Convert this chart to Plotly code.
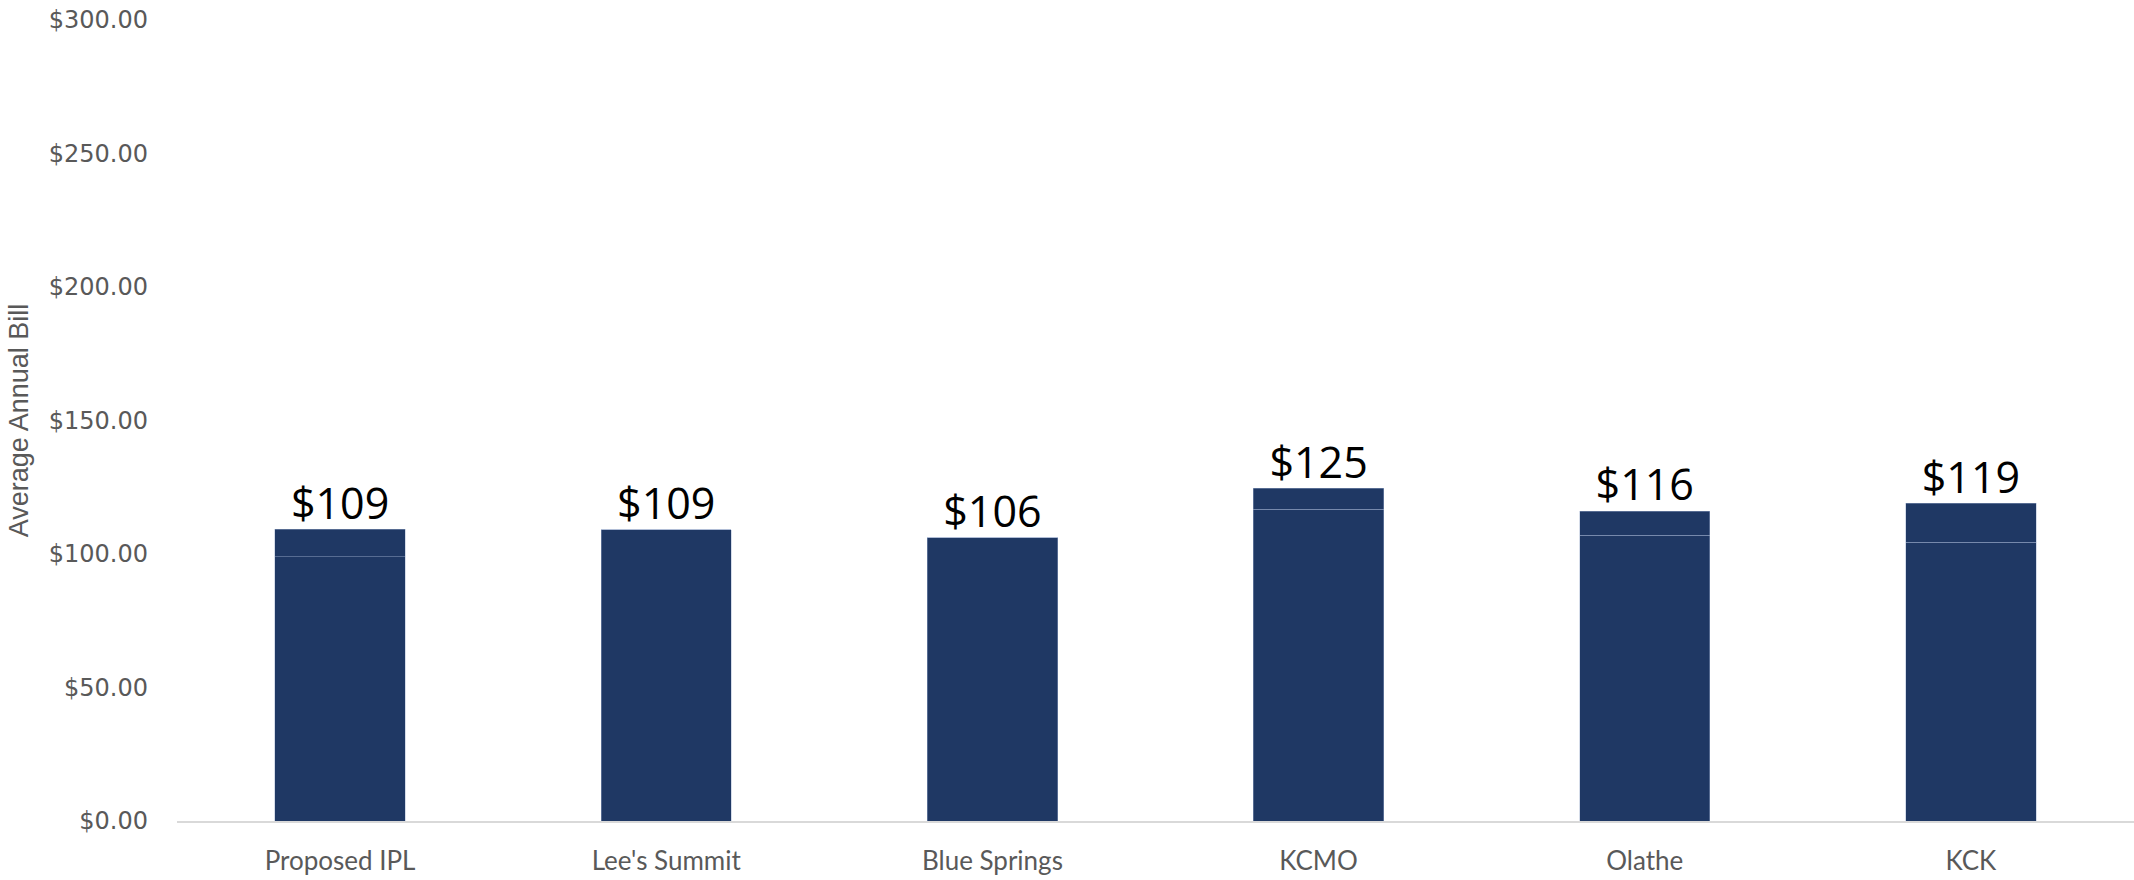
import plotly.graph_objects as go

# Average annual bill by utility, split into base charge and added portion
utilities = ["Proposed IPL", "Lee's Summit", "Blue Springs", "KCMO", "Olathe", "KCK"]
base_bill = [99.0, 109.0, 106.1, 116.7, 107.1, 104.4]
added_bill = [10.2, 0.0, 0.0, 7.9, 9.0, 14.6]
y_ticks = [0, 50, 100, 150, 200, 250, 300]

totals = [b + a for b, a in zip(base_bill, added_bill)]
labels = [f"${round(t)}" for t in totals]

BAR = "#1F3864"
EDGE = "rgba(160,175,205,0.55)"
GRAY = "#595959"

fig = go.Figure()
fig.add_trace(go.Bar(
    x=utilities, y=base_bill, marker=dict(color=BAR, line=dict(color=EDGE, width=0.8)),
    width=0.4, hoverinfo="skip", showlegend=False,
))
fig.add_trace(go.Bar(
    x=utilities, y=added_bill, marker=dict(color=BAR, line=dict(color=EDGE, width=0.8)),
    width=0.4, hoverinfo="skip", showlegend=False,
))
fig.add_trace(go.Scatter(
    x=utilities, y=totals, mode="text", text=labels, textposition="top center",
    textfont=dict(family="Open Sans, sans-serif", size=43, color="#000000"),
    hoverinfo="skip", showlegend=False, cliponaxis=False,
))

fig.update_layout(
    barmode="stack",
    width=2134, height=880,
    margin=dict(l=177, r=0, t=20, b=59),
    paper_bgcolor="white", plot_bgcolor="white",
    xaxis=dict(
        automargin=False,
        showgrid=False, showline=True, linecolor="#D9D9D9", linewidth=1.5,
        ticks="", ticklabelstandoff=16,
        tickfont=dict(family="Lato, sans-serif", size=26, color=GRAY),
    ),
    yaxis=dict(
        automargin=False,
        range=[0, 300], tickvals=y_ticks,
        ticktext=[f"${v:.2f}" for v in y_ticks],
        showgrid=False, zeroline=False, showline=False, ticks="",
        ticklabelstandoff=28,
        tickfont=dict(family="DejaVu Sans, sans-serif", size=24, color=GRAY),
        title=dict(text="Average Annual Bill", standoff=12,
                   font=dict(family="Liberation Sans Narrow, Arial Narrow, sans-serif",
                             size=27, color=GRAY)),
    ),
)

fig.write_html("out.html")
